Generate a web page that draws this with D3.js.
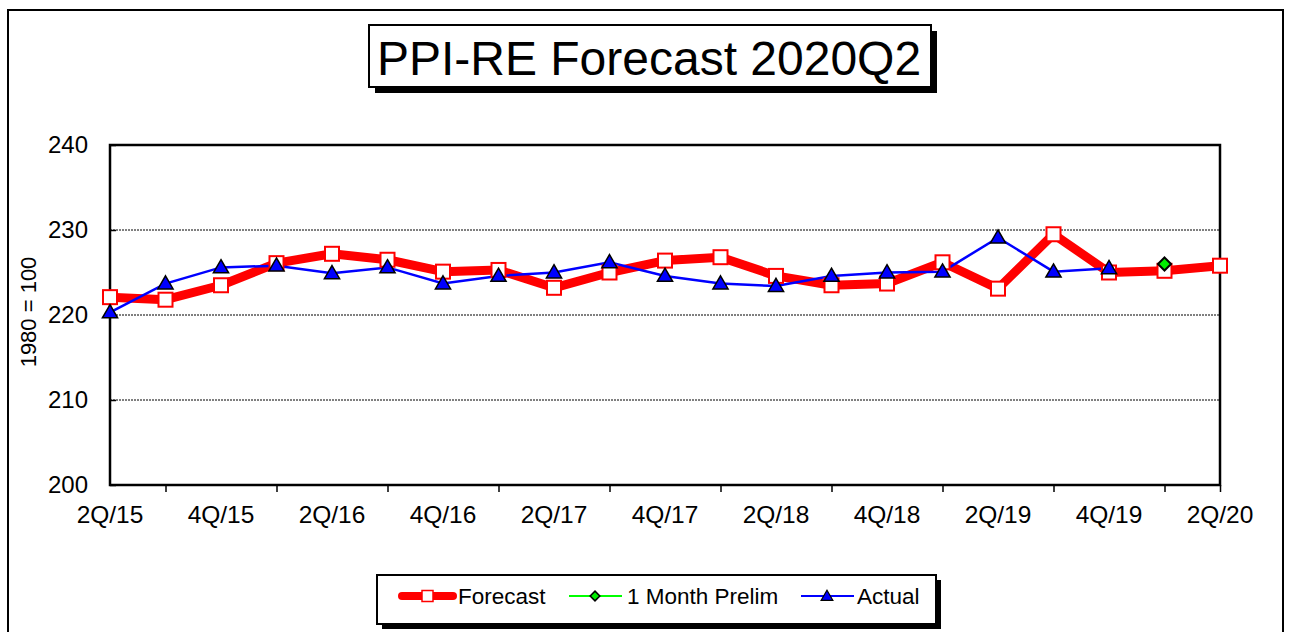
<!DOCTYPE html>
<html>
<head>
<meta charset="utf-8">
<script src="https://cdn.jsdelivr.net/npm/d3@7"></script>
<style>
  body { margin: 0; background: #fff; }
  svg { display: block; font-family: Arial, "Liberation Sans", sans-serif; }
</style>
</head>
<body>
<svg id="chart" width="1289" height="632"></svg>
<script>
// quarters shown on the x axis
var quarters = ["2Q/15","3Q/15","4Q/15","1Q/16","2Q/16","3Q/16","4Q/16","1Q/17","2Q/17","3Q/17",
  "4Q/17","1Q/18","2Q/18","3Q/18","4Q/18","1Q/19","2Q/19","3Q/19","4Q/19","1Q/20","2Q/20"];
var forecast = [222.1, 221.8, 223.5, 226.1, 227.2, 226.5, 225.1, 225.3, 223.2, 225.0,
  226.4, 226.8, 224.6, 223.5, 223.7, 226.2, 223.1, 229.5, 225.0, 225.2, 225.8];
var actual = [220.3, 223.7, 225.6, 225.8, 224.9, 225.6, 223.7, 224.6, 225.0, 226.2,
  224.6, 223.7, 223.4, 224.6, 225.0, 225.1, 229.1, 225.1, 225.5];
var prelim = [{ q: "1Q/20", v: 226.0 }];
var yTicks = [200, 210, 220, 230, 240];

var svg = d3.select("#chart");

//outer frame of the chart area
svg.append("rect").attr("x", 8).attr("y", 10).attr("width", 1275).attr("height", 640)
  .attr("fill", "none").attr("stroke", "#000").attr("stroke-width", 2);

//title box with drop shadow
svg.append("rect").attr("x", 375).attr("y", 31).attr("width", 562).attr("height", 62).attr("fill", "#000");
svg.append("rect").attr("x", 369).attr("y", 25).attr("width", 562).attr("height", 62)
  .attr("fill", "#fff").attr("stroke", "#000").attr("stroke-width", 2);
svg.append("text").attr("x", 649).attr("y", 75).attr("text-anchor", "middle")
  .attr("font-size", 48).text("PPI-RE Forecast 2020Q2");

var pLeft = 110, pRight = 1220, pTop = 145, pBottom = 485;

var x = d3.scalePoint().domain(quarters).range([pLeft, pRight]);
var y = d3.scaleLinear().domain([200, 240]).range([pBottom, pTop]);

//dotted gridlines
svg.append("g").selectAll("line")
  .data(yTicks.filter(function (d) { return d > 200 && d < 240; }))
  .enter().append("line")
    .attr("x1", pLeft).attr("x2", pRight)
    .attr("y1", function (d) { return y(d); }).attr("y2", function (d) { return y(d); })
    .attr("stroke", "#000").attr("stroke-width", 1).attr("stroke-dasharray", "2,1");

//y axis
var yAxis = svg.append("g").attr("transform", "translate(" + pLeft + ",0)")
  .call(d3.axisLeft(y).tickValues(yTicks).tickSize(-6).tickPadding(22));
yAxis.select(".domain").remove();
yAxis.selectAll("line").attr("stroke-width", 1.5);
yAxis.selectAll("text").attr("font-size", 24).attr("fill", "#000")
  .attr("font-family", "Arial, 'Liberation Sans', sans-serif");

//x axis: ticks at every other quarter, labels on the others
var xAxis = svg.append("g").attr("transform", "translate(0," + pBottom + ")")
  .call(d3.axisBottom(x).tickValues(quarters.filter(function (d, i) { return i % 2 == 1 || i == quarters.length - 1; }))
    .tickSize(7).tickFormat(""));
xAxis.select(".domain").remove();
xAxis.selectAll("line").attr("stroke-width", 1.5);
svg.append("g").selectAll("text")
  .data(quarters.filter(function (d, i) { return i % 2 == 0; }))
  .enter().append("text")
    .attr("x", function (d) { return x(d); }).attr("y", 523)
    .attr("text-anchor", "middle").attr("font-size", 24.5).text(function (d) { return d; });

//plot border
svg.append("rect").attr("x", pLeft).attr("y", pTop).attr("width", pRight - pLeft).attr("height", pBottom - pTop)
  .attr("fill", "none").attr("stroke", "#000").attr("stroke-width", 2.5);

svg.append("text").attr("transform", "translate(36," + 312 + ") rotate(-90)")
  .attr("text-anchor", "middle").attr("font-size", 22).text("1980 = 100");

//forecast line
var line = d3.line().x(function (d, i) { return x(quarters[i]); }).y(function (d) { return y(d); });
svg.append("path").datum(forecast).attr("d", line)
  .attr("fill", "none").attr("stroke", "#ff0000").attr("stroke-width", 9).attr("stroke-linejoin", "round");

//actual line
svg.append("path").datum(actual).attr("d", line)
  .attr("fill", "none").attr("stroke", "#0000ff").attr("stroke-width", 2.5);

//forecast markers
svg.append("g").selectAll("rect").data(forecast).enter().append("rect")
  .attr("x", function (d, i) { return x(quarters[i]) - 7; })
  .attr("y", function (d) { return y(d) - 7; })
  .attr("width", 14).attr("height", 14)
  .attr("fill", "#fff").attr("stroke", "#ff0000").attr("stroke-width", 2);

//actual markers
var tri = d3.symbol().type(d3.symbolTriangle).size(100);
svg.append("g").selectAll("path").data(actual).enter().append("path")
  .attr("d", tri)
  .attr("transform", function (d, i) { return "translate(" + x(quarters[i]) + "," + (y(d) + 1) + ")"; })
  .attr("fill", "#0000ff").attr("stroke", "#000").attr("stroke-width", 1.5);

//prelim marker
var dia = d3.symbol().type(d3.symbolDiamond2).size(110);
svg.append("g").selectAll("path").data(prelim).enter().append("path")
  .attr("d", dia)
  .attr("transform", function (d) { return "translate(" + x(d.q) + "," + y(d.v) + ")"; })
  .attr("fill", "#00ee00").attr("stroke", "#000").attr("stroke-width", 2);

//legend
svg.append("rect").attr("x", 382).attr("y", 580).attr("width", 559).attr("height", 49).attr("fill", "#000");
svg.append("rect").attr("x", 377).attr("y", 575).attr("width", 559).attr("height", 49)
  .attr("fill", "#fff").attr("stroke", "#000").attr("stroke-width", 2);

var ly = 596;
var lg = svg.append("g");
lg.append("line").attr("x1", 402).attr("x2", 453).attr("y1", ly).attr("y2", ly)
  .attr("stroke", "#ff0000").attr("stroke-width", 8).attr("stroke-linecap", "round");
lg.append("rect").attr("x", 422).attr("y", ly - 5.5).attr("width", 11).attr("height", 11)
  .attr("fill", "#fff").attr("stroke", "#ff0000").attr("stroke-width", 1.5);
lg.append("text").attr("x", 458).attr("y", ly + 8).attr("font-size", 22.5).text("Forecast");

lg.append("line").attr("x1", 569).attr("x2", 622).attr("y1", ly).attr("y2", ly)
  .attr("stroke", "#00ff00").attr("stroke-width", 2);
lg.append("path").attr("d", d3.symbol().type(d3.symbolDiamond2).size(60))
  .attr("transform", "translate(595," + ly + ")")
  .attr("fill", "#00ee00").attr("stroke", "#000").attr("stroke-width", 1.5);
lg.append("text").attr("x", 627).attr("y", ly + 8).attr("font-size", 22.5).text("1 Month Prelim");

lg.append("line").attr("x1", 801).attr("x2", 854).attr("y1", ly).attr("y2", ly)
  .attr("stroke", "#0000ff").attr("stroke-width", 2);
lg.append("path").attr("d", d3.symbol().type(d3.symbolTriangle).size(60))
  .attr("transform", "translate(827," + (ly + 1) + ")")
  .attr("fill", "#0000ff").attr("stroke", "#000").attr("stroke-width", 1.2);
lg.append("text").attr("x", 857).attr("y", ly + 8).attr("font-size", 22.5).text("Actual");
</script>
</body>
</html>
